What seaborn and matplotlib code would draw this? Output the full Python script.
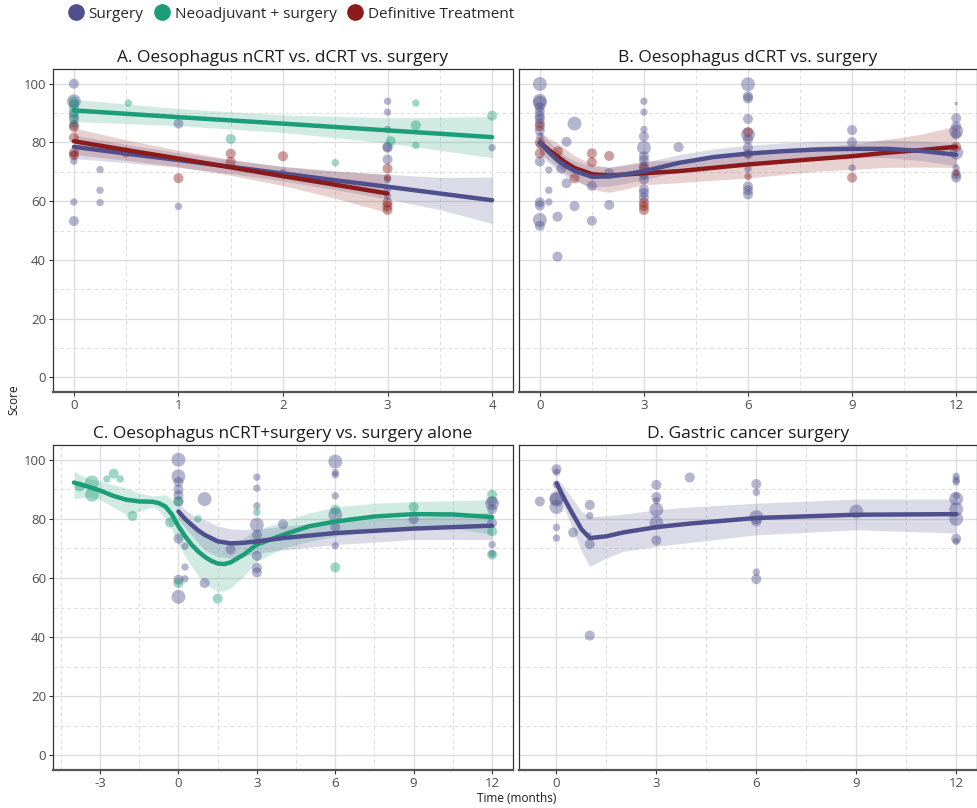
import numpy as np
import pandas as pd
import matplotlib
matplotlib.use('Agg')
import matplotlib.pyplot as plt
from matplotlib.lines import Line2D
import seaborn as sns

sns.set_theme(style='white')
plt.rcParams['font.family'] = ['Open Sans', 'DejaVu Sans']

col_s = '#4E4F8C'   # Surgery
col_n = '#1B9E77'   # Neoadjuvant + surgery
col_d = '#8B1A1A'   # Definitive Treatment
palette = {'Surgery': col_s, 'Neoadjuvant + surgery': col_n, 'Definitive Treatment': col_d}
size_map = {1: 6, 2: 28, 3: 52, 4: 100}

# ---------------- data: observed points (time, score, n-size class) ----------------
# A. Oesophagus nCRT vs. dCRT vs. surgery
a_s_time = [0, 0, 0, 0, 0, 0, 0, 0, 0, 0, 0.25, 0.25, 0.25, 1, 1, 2, 3, 3, 3, 3, 3, 3, 3, 3, 3, 4]
a_s_score = [100, 94, 93, 90, 88, 86, 73.6, 59.7, 53.2, 76, 70.7, 63.7, 59.5, 86.4, 58.2, 69.7,
             94, 90.3, 84.4, 78.5, 78.2, 74.2, 67.4, 64, 61.7, 78.2]
a_s_n = [3, 4, 3, 3, 3, 3, 2, 2, 3, 2, 2, 2, 2, 3, 2, 2, 2, 2, 2, 3, 3, 3, 2, 2, 2, 2]

a_n_time = [0, 0, 0, 0, 0.52, 1.5, 2.5, 3.03, 3.27, 3.27, 3.27, 4]
a_n_score = [94, 91.5, 89, 86.5, 93.4, 81.2, 73.1, 80.4, 93.4, 85.8, 79, 89.1]
a_n_n = [3, 3, 3, 2, 2, 3, 2, 3, 2, 3, 2, 3]

a_d_time = [0, 0, 0, 0, 0.5, 1, 1.5, 1.5, 2, 3, 3, 3, 3, 3]
a_d_score = [85.2, 81.6, 76.5, 75.6, 76.6, 67.8, 76.2, 73.4, 75.3, 71.1, 68, 59.5, 58.3, 57]
a_d_n = [3, 3, 3, 3, 3, 3, 3, 3, 3, 3, 2, 3, 3, 3]

# B. Oesophagus dCRT vs. surgery
b_s_time = ([0] * 16 + [0.26] * 3 + [0.51, 0.51, 0.77, 0.77, 0.62, 1.0, 1.0, 1.5, 1.5, 2.0, 2.0]
            + [3] * 13 + [4] + [6] * 12 + [9] * 3 + [12] * 9)
b_s_score = [99.9, 94.2, 93.5, 92, 90.5, 89, 88, 86.5, 84, 82, 79, 73.5, 59.6, 58.5, 53.6, 51.6,
             70.6, 63.7, 59.7, 54.7, 41.1, 80.2, 66.1, 71.1, 86.4, 58.3, 65.2, 53.3, 69.5, 58.7,
             94, 90.3, 84.4, 82, 78.2, 75.3, 74, 72, 69, 67.4, 64, 62.8, 61.2,
             78.4,
             99.8, 95.7, 95, 88, 82.7, 81, 78.2, 76, 71, 65, 63.7, 62.3,
             84.2, 80.1, 71.3,
             93.2, 88.3, 85.5, 83.8, 82.7, 76.5, 71.3, 69, 68]
b_s_n = [4, 4, 4, 3, 3, 3, 3, 3, 3, 2, 2, 3, 3, 3, 4, 3,
         2, 2, 2, 3, 3, 3, 3, 3, 4, 3, 3, 3, 3, 3,
         2, 2, 2, 3, 4, 3, 3, 3, 3, 3, 3, 3, 3,
         3,
         4, 3, 3, 3, 4, 3, 3, 3, 2, 3, 3, 3,
         3, 3, 2,
         1, 3, 3, 4, 3, 4, 2, 3, 3]

b_d_time = [0, 0, 0, 0.52, 1.0, 1.5, 1.5, 2.0, 3, 3, 3, 3, 6, 6, 6, 9, 12, 12]
b_d_score = [85.5, 80, 76.3, 77, 67.8, 76.3, 73.3, 75.4, 71.2, 59.5, 58.3, 57, 83.5, 76, 68.4, 68, 78.5, 69.6]
b_d_n = [3, 3, 3, 3, 3, 3, 3, 3, 3, 3, 3, 3, 3, 2, 2, 3, 3, 2]

# C. Oesophagus nCRT+surgery vs. surgery alone
c_n_time = [-3.78, -3.31, -3.31, -2.74, -2.48, -2.23, -1.76, -0.32, 0, 0, 0.75, 1.5, 3, 6, 6, 9, 12, 12, 12]
c_n_score = [91, 92.3, 88.2, 93.5, 95.3, 93.5, 81, 78.8, 85.9, 58.3, 80, 53, 82.2, 83.1, 63.6, 84, 88.2, 75.8, 67.9]
c_n_n = [3, 4, 4, 2, 3, 2, 3, 3, 3, 3, 2, 3, 2, 3, 3, 3, 3, 3, 3]

c_s_time = [0] * 9 + [0.25] * 3 + [1, 1, 2] + [3] * 8 + [4] + [6] * 7 + [9] + [12] * 6
c_s_score = [100, 94.4, 92.5, 89.9, 88, 85.9, 73.3, 59.4, 53.6,
             70.7, 63.7, 59.7, 86.7, 58.3, 69.6,
             94.1, 90.4, 84.4, 78, 74.6, 67.5, 63.4, 61.9,
             78.2,
             99.4, 95.7, 94.9, 87.8, 81.4, 77.2, 70.9,
             79.9,
             85.9, 85.3, 83.3, 78.6, 71.3, 68.2]
c_s_n = [4, 4, 3, 3, 3, 3, 3, 3, 4,
         2, 2, 2, 4, 3, 3,
         2, 2, 2, 4, 3, 3, 3, 3,
         3,
         4, 2, 2, 2, 4, 3, 2,
         3,
         3, 4, 3, 3, 2, 2]

# D. Gastric cancer surgery
d_s_time = [-0.5] + [0] * 8 + [0.5] + [1] * 5 + [3] * 6 + [4] + [6] * 6 + [9] + [12] * 9
d_s_score = [85.9,
             96.8, 95.8, 91.5, 87, 86.5, 84, 77.1, 73.5,
             75.4,
             84.7, 81.1, 74.9, 71.4, 40.5,
             91.5, 87.4, 86.1, 83.1, 78.6, 72.7,
             94,
             91.8, 89, 80.6, 79.1, 62, 59.6,
             82.5,
             94.4, 93.2, 92.5, 86.8, 87.8, 83.3, 80, 73.3, 72.4]
d_s_n = [3, 3, 2, 2, 4, 4, 4, 2, 2, 3, 3, 2, 1, 3, 3, 3, 3, 2, 4, 4, 3, 3,
         3, 2, 4, 3, 2, 3, 4, 2, 2, 2, 4, 2, 4, 4, 3, 2]

# ---------------- fitted curves with confidence bands ----------------
fa_s_x = [0, 0.5, 1, 1.5, 2, 2.5, 3, 3.5, 4]
fa_s_y = [78.5, 76.2, 74.0, 71.7, 69.4, 67.1, 64.9, 62.6, 60.3]
fa_s_lo = [74.5, 73.1, 71.5, 69.4, 66.9, 63.9, 60.7, 57.1, 52.4]
fa_s_hi = [82.5, 79.3, 76.5, 74.0, 71.9, 70.3, 69.1, 68.1, 68.2]
fa_n_x = [0, 1, 2, 3, 4]
fa_n_y = [90.9, 88.6, 86.4, 84.1, 81.8]
fa_n_lo = [87.1, 85.7, 83.4, 79.8, 74.8]
fa_n_hi = [94.7, 91.5, 89.4, 88.4, 88.8]
fa_d_x = [0, 0.5, 1, 1.5, 2, 2.5, 3]
fa_d_y = [80.4, 77.4, 74.5, 71.5, 68.5, 65.6, 62.6]
fa_d_lo = [75.9, 73.9, 71.7, 68.8, 65.3, 61.0, 56.1]
fa_d_hi = [84.9, 80.9, 77.3, 74.2, 71.7, 70.2, 69.1]

fb_s_x = [0, 0.25, 0.5, 0.75, 1, 1.5, 2, 2.5, 3, 4, 5, 6, 7, 8, 9, 10, 11, 12]
fb_s_y = [80, 76.8, 74, 71.9, 70.3, 68.3, 68.4, 69.2, 70.2, 73.0, 75.0, 76.2, 77, 77.6, 77.8, 77.8, 77.1, 75.8]
fb_s_lo = [76, 73.1, 70.5, 68.4, 66.8, 64.8, 65.1, 66.1, 67.2, 70.2, 72.2, 73.4, 74.2, 74.8, 75.0, 74.8, 73.8, 72.0]
fb_s_hi = [84, 80.5, 77.5, 75.4, 73.8, 71.8, 71.7, 72.3, 73.2, 75.8, 77.8, 79.0, 79.8, 80.4, 80.6, 80.8, 80.4, 79.6]
fb_d_x = [0, 0.25, 0.5, 0.75, 1, 1.5, 2, 2.5, 3, 4, 6, 8, 9, 10, 11, 12]
fb_d_y = [80, 77.5, 75.3, 73.1, 71.3, 69.2, 68.7, 69.1, 69.5, 70.2, 72.5, 74.4, 75.3, 76.5, 77.4, 78.5]
fb_d_lo = [76.3, 74.0, 71.8, 69.5, 67.5, 64.0, 63.0, 64.3, 65.6, 66.3, 67.9, 70.2, 70.8, 71.5, 71.6, 71.5]
fb_d_hi = [83.8, 81.5, 79.8, 77.6, 75.5, 72.6, 71.4, 72.6, 73.6, 74, 76.9, 78.6, 79.4, 81, 82.8, 85.6]

fc_n_x = [-4, -3.5, -3, -2.5, -2, -1.5, -1, -0.75, -0.5, -0.25, 0, 0.25, 0.5, 0.75, 1, 1.25, 1.5,
          1.75, 2, 2.5, 3, 4, 5, 6, 7.5, 9, 10.5, 12]
fc_n_y = [92.3, 91.0, 89.6, 87.8, 86.5, 85.9, 85.8, 85.3, 84.2, 81.5, 77.5, 74.2, 71.3, 69.0, 67.2,
          65.8, 64.9, 64.7, 65.3, 67.9, 71.3, 74.6, 77.5, 79.1, 80.8, 81.6, 81.5, 80.6]
fc_n_lo = [86.8, 87.4, 86.5, 84, 81.4, 82.5, 84, 82.8, 80.2, 76.4, 71.3, 67.4, 63.9, 60.8, 58.3,
           56.6, 55.5, 55.6, 56.6, 60.6, 65.6, 70.1, 72.4, 74.1, 75.8, 77.5, 76.9, 74.6]
fc_n_hi = [96.1, 93.8, 92.7, 91.5, 90.4, 88.7, 87.8, 87.9, 88.2, 86.6, 83.7, 80.8, 77.5, 75.5, 74.1,
           72.9, 71.8, 71.4, 71.3, 73.5, 76.3, 79.1, 82, 84, 85.3, 85.9, 86.1, 86.5]
fc_s_x = [0, 0.25, 0.5, 0.75, 1, 1.5, 2, 2.5, 3, 4, 6, 9, 12]
fc_s_y = [82.5, 80.0, 78.0, 76.1, 74.6, 72.4, 71.7, 71.9, 72.4, 73.5, 75.2, 76.7, 77.7]
fc_s_lo = [79.7, 77.0, 74.5, 71.8, 69.5, 67.2, 66.7, 67.4, 68.4, 69.5, 71.3, 73.0, 73.0]
fc_s_hi = [85.3, 83.2, 81.5, 80.4, 79.7, 77.6, 76.6, 76.4, 76.5, 77.5, 79.2, 80.5, 82.3]

fd_s_x = [0, 0.25, 0.5, 0.75, 1, 1.5, 2, 3, 4, 6, 9, 12]
fd_s_y = [92.1, 86.5, 81.4, 76.5, 73.5, 74.1, 75.4, 77.2, 78.4, 80.3, 81.4, 81.6]
fd_s_lo = [90.4, 83, 76.3, 69, 63.9, 66.8, 69, 70.7, 72, 74.6, 76.3, 75.2]
fd_s_hi = [93.8, 90.5, 86.5, 82.5, 80.8, 81, 81.6, 83.1, 84, 85.3, 86.7, 86.7]


def points(group, t, s, n):
    return pd.DataFrame({'time': t, 'score': s, 'n': n, 'group': group})


def draw_fit(ax, x, y, lo, hi, color):
    ax.fill_between(x, lo, hi, color=color, alpha=0.2, lw=0, zorder=2)
    sns.lineplot(x=x, y=y, color=color, lw=3.2, ax=ax, zorder=4)


panels = [
    ('A. Oesophagus nCRT vs. dCRT vs. surgery', [53, 69, 513, 392], (-0.2, 4.2), [0, 1, 2, 3, 4],
     [points('Surgery', a_s_time, a_s_score, a_s_n),
      points('Neoadjuvant + surgery', a_n_time, a_n_score, a_n_n),
      points('Definitive Treatment', a_d_time, a_d_score, a_d_n)],
     [(fa_n_x, fa_n_y, fa_n_lo, fa_n_hi, col_n),
      (fa_s_x, fa_s_y, fa_s_lo, fa_s_hi, col_s),
      (fa_d_x, fa_d_y, fa_d_lo, fa_d_hi, col_d)], True),
    ('B. Oesophagus dCRT vs. surgery', [519, 69, 977, 392], (-0.6, 12.6), [0, 3, 6, 9, 12],
     [points('Surgery', b_s_time, b_s_score, b_s_n),
      points('Definitive Treatment', b_d_time, b_d_score, b_d_n)],
     [(fb_d_x, fb_d_y, fb_d_lo, fb_d_hi, col_d),
      (fb_s_x, fb_s_y, fb_s_lo, fb_s_hi, col_s)], False),
    ('C. Oesophagus nCRT+surgery vs. surgery alone', [53, 445, 513, 770], (-4.8, 12.8), [-3, 0, 3, 6, 9, 12],
     [points('Surgery', c_s_time, c_s_score, c_s_n),
      points('Neoadjuvant + surgery', c_n_time, c_n_score, c_n_n)],
     [(fc_n_x, fc_n_y, fc_n_lo, fc_n_hi, col_n),
      (fc_s_x, fc_s_y, fc_s_lo, fc_s_hi, col_s)], True),
    ('D. Gastric cancer surgery', [519, 445, 977, 770], (-1.125, 12.625), [0, 3, 6, 9, 12],
     [points('Surgery', d_s_time, d_s_score, d_s_n)],
     [(fd_s_x, fd_s_y, fd_s_lo, fd_s_hi, col_s)], False),
]

W, H = 978, 808
fig = plt.figure(figsize=(W / 100, H / 100), dpi=100)

for title, (x0, y0, x1, y1), xlim, xt, pts, fits, ylab in panels:
    ax = fig.add_axes([x0 / W, 1 - y1 / H, (x1 - x0) / W, (y1 - y0) / H])
    df = pd.concat(pts, ignore_index=True)
    sns.scatterplot(data=df, x='time', y='score', hue='group', palette=palette,
                    size='n', sizes=size_map, alpha=0.42, linewidth=0, legend=False,
                    ax=ax, zorder=3)
    for fx, fy, flo, fhi, c in fits:
        draw_fit(ax, fx, fy, flo, fhi, c)

    ax.set_xlim(*xlim)
    ax.set_ylim(-5, 105)
    ax.set_xticks(xt)
    ax.set_xticklabels([str(v) for v in xt])
    step = xt[1] - xt[0]
    minor_x = [xt[0] + step * (k + 0.5) for k in range(-3, len(xt) + 2)]
    minor_x = [m for m in minor_x if xlim[0] < m < xlim[1]]
    ax.set_xticks(minor_x, minor=True)
    ax.set_yticks([0, 20, 40, 60, 80, 100])
    ax.set_yticks([10, 30, 50, 70, 90], minor=True)
    ax.grid(which='major', color='#DEDEDE', lw=1.0, zorder=0)
    ax.grid(which='minor', color='#DEDEDE', lw=0.7, ls=(0, (4, 3)), zorder=0)
    ax.set_axisbelow(True)
    ax.tick_params(which='minor', length=0)
    ax.tick_params(axis='x', which='major', length=3, width=0.8, color='#333333',
                   labelsize=9.5, labelcolor='#4D4D4D', pad=2, bottom=True)
    if ylab:
        ax.tick_params(axis='y', which='major', length=3, width=0.8, color='#333333',
                       labelsize=9.5, labelcolor='#4D4D4D', pad=2, left=True)
    else:
        ax.tick_params(axis='y', which='major', left=False, labelleft=False)
    for sp in ax.spines.values():
        sp.set_color('#333333')
        sp.set_linewidth(0.9)
    ax.spines['bottom'].set_color('#555555')
    ax.spines['bottom'].set_linewidth(1.6)
    ax.set_xlabel('')
    ax.set_ylabel('')
    ax.set_title(title, fontsize=12.5, color='#1A1A1A', pad=5)

fig.text(14 / W, 1 - 400 / H, 'Score', rotation=90, ha='center', va='center', fontsize=8.5, color='#1A1A1A')
fig.text(517 / W, 1 - 799 / H, 'Time (months)', ha='center', va='center', fontsize=8.5, color='#1A1A1A')

handles = [Line2D([], [], marker='o', ls='', color=c, markersize=11, label=g) for g, c in palette.items()]
fig.legend(handles=handles, loc='center left', bbox_to_anchor=(62 / W, 1 - 14 / H), ncol=3,
           frameon=False, fontsize=11, handletextpad=0.35, columnspacing=0.7, borderaxespad=0,
           handlelength=1.0)

fig.savefig('out.png', dpi=100)
